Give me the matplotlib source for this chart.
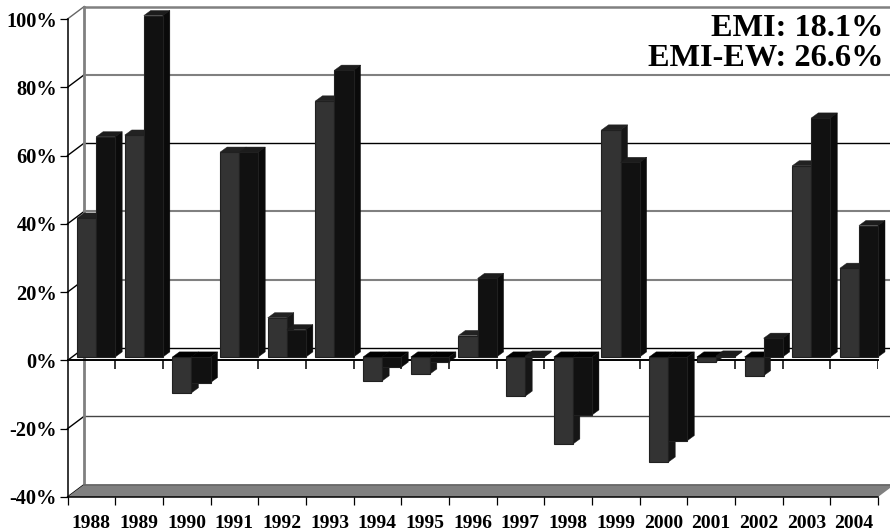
import matplotlib
matplotlib.use('Agg')
import matplotlib.pyplot as plt
import numpy as np

years = ['1988', '1989', '1990', '1991', '1992', '1993', '1994', '1995', '1996',
         '1997', '1998', '1999', '2000', '2001', '2002', '2003', '2004']
emi = [40.7, 65, -10.5, 60, 11.5, 75, -7, -5, 6.3, -11.5, -25.5, 66.5, -30.8, -1.5, -5.5, 56, 26]
emi_ew = [64.5, 100, -7.5, 60, 8, 84, -3, -1.5, 23, 0.3, -17, 57, -24.5, 0.3, 5.5, 70, 38.5]
y_ticks = [-40, -20, 0, 20, 40, 60, 80, 100]
grid_colors = ['#666666', '#444444', '#000000', '#808080', '#808080', '#000000', '#808080', '#808080']

plt.rcParams['font.family'] = 'Liberation Serif'
plt.rcParams['font.weight'] = 'bold'

W, H = 890, 531
fig = plt.figure(figsize=(W / 100, H / 100), dpi=100)
ax = fig.add_axes([67.5 / W, 1 - 497 / H, (878 - 67.5) / W, (497 - 19) / H])
ax.set_xlim(0, 17)
ax.set_ylim(-40, 100)

# 3d look offsets, in data units
wall_dx, wall_dy = 0.35, 3.66
bar_dx, bar_dy = 0.147, 1.5
bar_w = 0.4
base = 1.0


def draw_bar(x, val, front, top, side, z):
    end = base + val
    hi = max(base, end)
    lo = min(base, end)
    # front
    ax.bar(x, hi - lo, bar_w, bottom=lo, align='edge', color=front,
           edgecolor='#202020', linewidth=0.8, zorder=z + 0.2, clip_on=False)
    # top face
    ax.fill([x, x + bar_w, x + bar_w + bar_dx, x + bar_dx],
            [hi, hi, hi + bar_dy, hi + bar_dy],
            color='#000000' if val < 0 else top, linewidth=0.3, zorder=z, clip_on=False)
    # side face
    ax.fill([x + bar_w, x + bar_w + bar_dx, x + bar_w + bar_dx, x + bar_w],
            [lo, lo + bar_dy, hi + bar_dy, hi],
            color=side, linewidth=0.3, zorder=z, clip_on=False)


# back wall lines
for v, c in zip(y_ticks, grid_colors):
    lw = 1.8 if v == 100 else 1.5 if c == '#808080' else 1.0
    if v > -40:
        ax.plot([wall_dx, 17.5], [v + wall_dy, v + wall_dy], color=c, lw=lw, zorder=1, clip_on=False)
    diag = '#666666' if v == 100 else '#000000'
    ax.plot([0, wall_dx], [v, v + wall_dy], color=diag, lw=1.0, zorder=1, clip_on=False)
ax.plot([wall_dx, wall_dx], [-40 + wall_dy, 100 + wall_dy], color='#808080', lw=2, zorder=1, clip_on=False)

# floor
ax.fill([0, 17, 17 + wall_dx, wall_dx], [-40, -40, -40 + wall_dy, -40 + wall_dy],
        color='#808080', linewidth=0, zorder=1.5, clip_on=False)
ax.plot([wall_dx, 17 + wall_dx], [-40 + wall_dy] * 2, color='#666666', lw=1.2, zorder=1.6, clip_on=False)

# front line at zero with its ticks
ax.plot([0, 17], [0, 0], color='black', lw=1.4, zorder=2, clip_on=False)
ax.vlines(np.arange(1, 18), -2.4, 0, color='black', lw=1.1, zorder=2)

for i in range(len(years)):
    x = i + 0.2
    draw_bar(x, emi[i], '#333333', '#222222', '#161616', 3 + i)
    draw_bar(x + bar_w, emi_ew[i], '#111111', '#1c1c1c', '#0a0a0a', 3.5 + i)

ax.set_xticks(np.arange(18))
ax.set_xticklabels([])
ax.set_xticks(np.arange(17) + 0.5, years, minor=True)
ax.tick_params(axis='x', which='major', length=5.8, width=0.9)
ax.tick_params(axis='x', which='minor', length=0, labelsize=14, pad=13)
ax.set_yticks(y_ticks, [f'{v}%' for v in y_ticks])
ax.tick_params(axis='y', length=5.5, width=0.9, labelsize=14.7, pad=2)
for s in ['top', 'right']:
    ax.spines[s].set_visible(False)
for s in ['left', 'bottom']:
    ax.spines[s].set_linewidth(1.1)
    ax.spines[s].set_zorder(30)

ax.text(883 / W, 1 - 28 / H, 'EMI: 18.1%', transform=fig.transFigure, ha='right', va='center',
        fontsize=23.3, fontweight='bold', zorder=40)
ax.text(883 / W, 1 - 58 / H, 'EMI-EW: 26.6%', transform=fig.transFigure, ha='right', va='center',
        fontsize=23.3, fontweight='bold', zorder=40)

fig.savefig('out.png', dpi=100)
